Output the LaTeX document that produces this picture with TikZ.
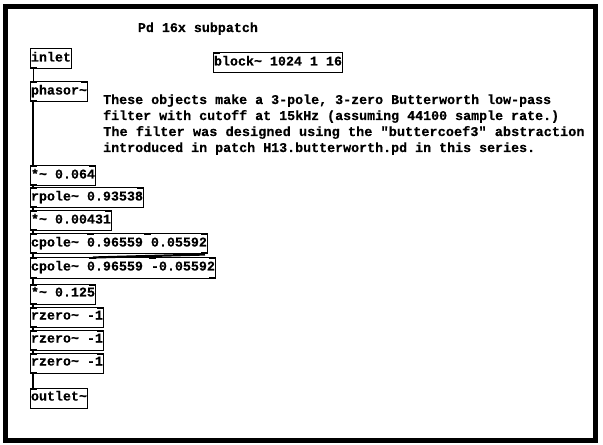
\documentclass[tikz,border=0pt]{standalone}
\usepackage{fontspec}
\setmainfont{Liberation Mono}[Ligatures=TeXOff, BoldFeatures={FakeBold=0.4}]
\usetikzlibrary{calc}
\newcommand\tl{\char`\~}
\newcommand\dq{\char34\relax}
\newcommand\pdins[2]{%
  \foreach \i in {1,...,#2}{%
    \ifnum#2=1 \def\t{0}\else\pgfmathsetmacro\t{(\i-1)/(#2-1)}\fi
    \fill ($(#1.north west)!\t!(#1.north east)+(-7*\t,0)$) rectangle +(7,2);
  }}
\newcommand\pdouts[2]{%
  \foreach \i in {1,...,#2}{%
    \ifnum#2=1 \def\t{0}\else\pgfmathsetmacro\t{(\i-1)/(#2-1)}\fi
    \fill ($(#1.south west)!\t!(#1.south east)+(-7*\t,0)$) rectangle +(7,-2);
  }}
\begin{document}
\begin{tikzpicture}[x=1bp,y=-1bp,
  font=\fontsize{13.33bp}{16bp}\selectfont\bfseries,
  obj/.style={draw, line width=1bp, anchor=north west, minimum height=20bp,
    inner xsep=1bp, inner ysep=0pt, text height=8.5bp, text depth=3.5bp},
  txt/.style={anchor=base west, inner sep=0pt},
  sig/.style={line width=2.2bp},
  ctl/.style={line width=1bp}]
\fill[white] (0,0) rectangle (603,445);
\useasboundingbox (0,0) rectangle (603,445);
\draw[line width=5bp] (5.5,6.5) rectangle (595.5,440.5);

\node[txt] (title) at (137.7,32) {Pd 16x subpatch};
\node[txt] (c1) at (103,104) {These objects make a 3-pole, 3-zero Butterworth low-pass};
\node[txt] (c2) at (103,120) {filter with cutoff at 15kHz (assuming 44100 sample rate.)};
\node[txt, xscale=1.02] (c3) at (103,136) {The filter was designed using the \dq buttercoef3\dq{} abstraction};
\node[txt] (c4) at (103,152) {introduced in patch H13.butterworth.pd in this series.};

\node[obj] (inlet) at (29.5,48.5) {inlet};
\node[obj] (block) at (212.5,52.5) {block\tl{} 1024 1 16};
\node[obj] (phasor) at (29.5,81.5) {phasor\tl};
\node[obj] (m1) at (29.5,165.5) {*\tl{} 0.064};
\node[obj] (rp) at (29.5,187.5) {rpole\tl{} 0.93538};
\node[obj] (m2) at (29.5,210.5) {*\tl{} 0.00431};
\node[obj] (cp1) at (29.5,233.5) {cpole\tl{} 0.96559 0.05592};
\node[obj] (cp2) at (29.5,257.5) {cpole\tl{} 0.96559 -0.05592};
\node[obj] (m3) at (29.5,283.5) {*\tl{} 0.125};
\node[obj] (rz1) at (29.5,306.5) {rzero\tl{} -1};
\node[obj] (rz2) at (29.5,329.5) {rzero\tl{} -1};
\node[obj] (rz3) at (29.5,352.5) {rzero\tl{} -1};
\node[obj] (outlet) at (29.5,387.5) {outlet\tl};

\pdouts{inlet}{1}
\pdins{block}{1}
\pdins{phasor}{2}\pdouts{phasor}{1}
\pdins{m1}{2}\pdouts{m1}{1}
\pdins{rp}{2}\pdouts{rp}{1}
\pdins{m2}{2}\pdouts{m2}{1}
\pdins{cp1}{4}\pdouts{cp1}{2}
\pdins{cp2}{4}\pdouts{cp2}{2}
\pdins{m3}{2}\pdouts{m3}{1}
\pdins{rz1}{2}\pdouts{rz1}{1}
\pdins{rz2}{2}\pdouts{rz2}{1}
\pdins{rz3}{2}\pdouts{rz3}{1}
\pdins{outlet}{1}

\draw[ctl] ([xshift=3.5bp]inlet.south west) -- ([xshift=3.5bp]phasor.north west);
\foreach \a/\b in {phasor/m1, m1/rp, rp/m2, m2/cp1, cp1/cp2, cp2/m3, m3/rz1, rz1/rz2, rz2/rz3, rz3/outlet}
  \draw[sig] ([xshift=3.5bp]\a.south west) -- ([xshift=3.5bp]\b.north west);
\draw[sig] ([xshift=-3.5bp]cp1.south east) -- ($(cp2.north west)!1/3!(cp2.north east)+(1.17,0)$);
\end{tikzpicture}
\end{document}
